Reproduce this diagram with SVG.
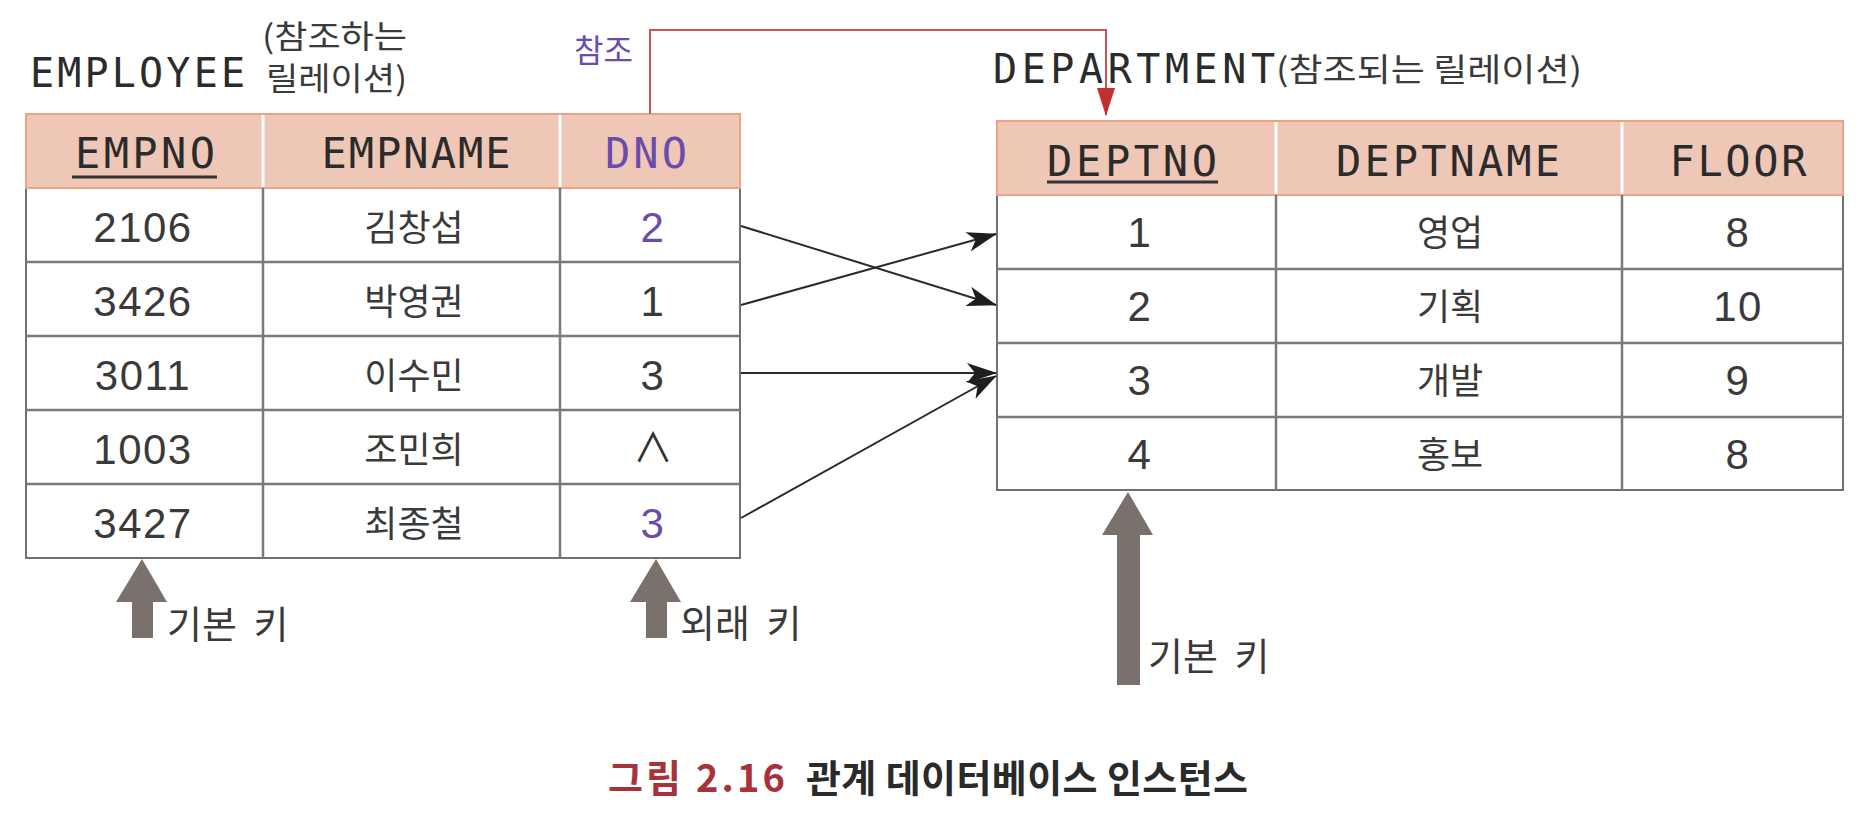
<svg xmlns="http://www.w3.org/2000/svg" width="1874" height="822" viewBox="0 0 1874 822">
<style>
.hdr{fill:#efc7b7;stroke:#e9a485;stroke-width:2}
.sep{stroke:#ffffff;stroke-width:3}
.body{fill:#ffffff;stroke:#707070;stroke-width:2}
.grid{stroke:#7a7a7a;stroke-width:2.5}
.mono{font-family:"DejaVu Sans Mono","Liberation Mono",monospace;font-size:42px;fill:#2b2b2b;text-anchor:middle}
.title{font-family:"DejaVu Sans Mono","Liberation Mono",monospace;font-size:40px;fill:#2b2b2b}
.num{font-family:"Liberation Sans",Arial,sans-serif;font-size:42px;fill:#3a3a3a;text-anchor:middle;letter-spacing:1.5px}
.kor{font-family:"Noto Sans CJK KR",sans-serif;font-size:36px;fill:#3a3a3a;text-anchor:middle}
.ksm{font-family:"Noto Sans CJK KR",sans-serif;font-size:32px;fill:#3a3a3a}
.lbl{font-family:"Noto Sans CJK KR",sans-serif;font-size:38px;fill:#3a3a3a;word-spacing:8px}
.purple{fill:#6a4cad}
.ul{stroke:#333333;stroke-width:3}
.conn{stroke:#2a2a2a;stroke-width:2;fill:none}
.blk{fill:#7a716c}
.cap{font-family:"Noto Sans CJK KR",sans-serif;font-size:38px;font-weight:700}
</style>
<defs>
<marker id="stealth" viewBox="0 0 30 20" refX="29" refY="10" markerWidth="30" markerHeight="20" markerUnits="userSpaceOnUse" orient="auto">
<path d="M0,0 L30,10 L0,20 L8,10 Z" fill="#1e1e1e"/>
</marker>
<marker id="redhead" viewBox="0 0 28 18" refX="27" refY="9" markerWidth="28" markerHeight="18" markerUnits="userSpaceOnUse" orient="auto">
<path d="M0,0 L28,9 L0,18 Z" fill="#c0302f"/>
</marker>
</defs>

<g id="employee">
<text class="title" x="30" y="87" textLength="215">EMPLOYEE</text>
<text class="ksm" x="262" y="48" textLength="145" lengthAdjust="spacingAndGlyphs">(참조하는</text>
<text class="ksm" x="266" y="90" textLength="141" lengthAdjust="spacingAndGlyphs">릴레이션)</text>
<rect class="body" x="26" y="188" width="714" height="370"/>
<rect class="hdr" x="26" y="114" width="714" height="74"/>
<line class="sep" x1="263" y1="115" x2="263" y2="187"/>
<line class="sep" x1="560" y1="115" x2="560" y2="187"/>
<line class="grid" x1="263" y1="188" x2="263" y2="558"/>
<line class="grid" x1="560" y1="188" x2="560" y2="558"/>
<line class="grid" x1="26" y1="262" x2="740" y2="262"/>
<line class="grid" x1="26" y1="336" x2="740" y2="336"/>
<line class="grid" x1="26" y1="410" x2="740" y2="410"/>
<line class="grid" x1="26" y1="484" x2="740" y2="484"/>
<text class="mono" x="145" y="168" textLength="140">EMPNO</text>
<line class="ul" x1="72" y1="177" x2="217" y2="177"/>
<text class="mono" x="416" y="168" textLength="189">EMPNAME</text>
<text class="mono purple" x="646" y="168" textLength="82">DNO</text>
<text class="num" x="143" y="242">2106</text>
<text class="num" x="143" y="316">3426</text>
<text class="num" x="143" y="390">3011</text>
<text class="num" x="143" y="464">1003</text>
<text class="num" x="143" y="538">3427</text>
<text class="kor" x="414" y="241">김창섭</text>
<text class="kor" x="414" y="315">박영권</text>
<text class="kor" x="414" y="389">이수민</text>
<text class="kor" x="414" y="463">조민희</text>
<text class="kor" x="414" y="537">최종철</text>
<text class="num purple" x="653" y="242">2</text>
<text class="num" x="653" y="316">1</text>
<text class="num" x="653" y="390">3</text>
<text x="653" y="462" style="font-family:'Noto Sans CJK KR',sans-serif;font-size:40px;fill:#333;text-anchor:middle">∧</text>
<text class="num purple" x="653" y="538">3</text>
</g>

<g id="department">
<text class="title" x="993" y="83" font-size="42" textLength="282">DEPARTMENT</text>
<text class="ksm" x="1276" y="81" font-size="34" textLength="306" lengthAdjust="spacingAndGlyphs">(참조되는 릴레이션)</text>
<rect class="body" x="997" y="195" width="846" height="295"/>
<rect class="hdr" x="997" y="121" width="846" height="74"/>
<line class="sep" x1="1276" y1="122" x2="1276" y2="194"/>
<line class="sep" x1="1622" y1="122" x2="1622" y2="194"/>
<line class="grid" x1="1276" y1="195" x2="1276" y2="490"/>
<line class="grid" x1="1622" y1="195" x2="1622" y2="490"/>
<line class="grid" x1="997" y1="269" x2="1843" y2="269"/>
<line class="grid" x1="997" y1="343" x2="1843" y2="343"/>
<line class="grid" x1="997" y1="417" x2="1843" y2="417"/>
<text class="mono" x="1132" y="176" textLength="170">DEPTNO</text>
<line class="ul" x1="1047" y1="182" x2="1218" y2="182"/>
<text class="mono" x="1448" y="176" textLength="224">DEPTNAME</text>
<text class="mono" x="1738" y="176" textLength="137">FLOOR</text>
<text class="num" x="1140" y="247">1</text>
<text class="num" x="1140" y="321">2</text>
<text class="num" x="1140" y="395">3</text>
<text class="num" x="1140" y="469">4</text>
<text class="kor" x="1450" y="246">영업</text>
<text class="kor" x="1450" y="320">기획</text>
<text class="kor" x="1450" y="394">개발</text>
<text class="kor" x="1450" y="468">홍보</text>
<text class="num" x="1738" y="247">8</text>
<text class="num" x="1738" y="321">10</text>
<text class="num" x="1738" y="395">9</text>
<text class="num" x="1738" y="469">8</text>
</g>

<g id="connectors">
<line class="conn" x1="741" y1="226" x2="996" y2="305" marker-end="url(#stealth)"/>
<line class="conn" x1="741" y1="305" x2="996" y2="234" marker-end="url(#stealth)"/>
<line class="conn" x1="741" y1="373" x2="996" y2="373" marker-end="url(#stealth)"/>
<line class="conn" x1="741" y1="518" x2="996" y2="376" marker-end="url(#stealth)"/>
<path d="M650,114 V30 H1106 V115" fill="none" stroke="#c85555" stroke-width="2" marker-end="url(#redhead)"/>
</g>

<g id="ref-label">
<text x="574" y="62" class="ksm purple" font-size="34">참조</text>
</g>

<g id="pk-employee">
<polygon class="blk" points="142,559 167,602 153,602 153,638 132,638 132,602 116,602"/>
<text class="lbl" x="167" y="638">기본 키</text>
</g>
<g id="fk-employee">
<polygon class="blk" points="656,559 681,602 667,602 667,638 646,638 646,602 630,602"/>
<text class="lbl" x="680" y="637">외래 키</text>
</g>
<g id="pk-department">
<polygon class="blk" points="1128,492 1153,535 1140,535 1140,685 1117,685 1117,535 1102,535"/>
<text class="lbl" x="1148" y="670">기본 키</text>
</g>

<g id="caption">
<text class="cap" x="608" y="792" fill="#a8323a" textLength="177">그림 2.16</text>
<text class="cap" x="806" y="792" fill="#2a2a2a" textLength="442">관계 데이터베이스 인스턴스</text>
</g>
</svg>
